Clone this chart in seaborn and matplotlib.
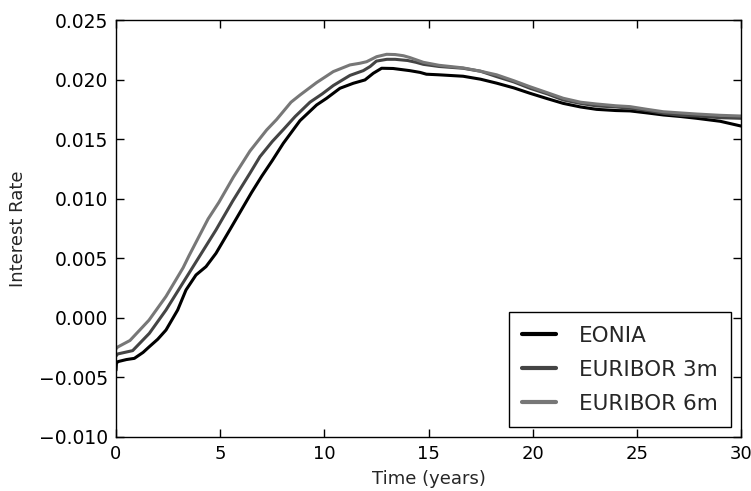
import numpy as np
import pandas as pd
import matplotlib
matplotlib.use("Agg")
import matplotlib.pyplot as plt
import seaborn as sns

series_names = ["EONIA", "EURIBOR 3m", "EURIBOR 6m"]

eonia_t = [0.0, 0.02, 0.1, 0.5, 0.88, 1.3, 1.6, 2.0, 2.4, 2.96, 3.36, 3.84, 4.32, 4.8,
           5.5, 6.0, 6.5, 7.0, 7.5, 8.03, 8.83, 9.63, 10.11, 10.75, 11.39, 11.95,
           12.35, 12.75, 13.3, 14.1, 14.6, 14.9, 15.5, 16.66, 17.5, 18.27, 19.1, 19.87,
           20.7, 21.47, 22.3, 23.07, 24.0, 24.67, 25.5, 26.27, 27.1, 27.87, 29.0, 30.0]
eonia_r = [-0.0044, -0.0038, -0.00367, -0.0035, -0.0034, -0.0029, -0.00242, -0.0018, -0.00102,
           0.00066, 0.00234, 0.0036, 0.0043, 0.00542, 0.0075, 0.0090, 0.0105, 0.0119,
           0.0132, 0.01465, 0.01655, 0.01787, 0.01843, 0.01927, 0.01969, 0.01997, 0.02053,
           0.02095, 0.02093, 0.02075, 0.0206, 0.02045, 0.0204, 0.02028, 0.02003, 0.0197,
           0.0193, 0.01885, 0.0184, 0.018, 0.0177, 0.0175, 0.0174, 0.01737, 0.0172, 0.01703,
           0.0169, 0.01675, 0.0165, 0.0161]

eur3m_t = [0.0, 0.08, 0.8, 1.6, 2.4, 3.2, 4.0, 4.8, 5.07, 5.6, 6.43, 6.91, 7.5, 8.03, 8.6,
           9.31, 9.9, 10.43, 10.9, 11.23, 11.87, 12.2, 12.5, 13.0, 13.4, 14.0, 14.4, 14.75,
           15.5, 16.66, 17.5, 18.27, 19.1, 19.87, 20.7, 21.47, 22.3, 23.07, 24.0, 24.67,
           25.5, 26.27, 27.1, 27.87, 29.0, 30.0]
eur3m_r = [-0.0032, -0.00303, -0.00275, -0.0013, 0.00066, 0.0029, 0.00514, 0.00738, 0.0082,
           0.0098, 0.01214, 0.01353, 0.0148, 0.0158, 0.0169, 0.0181, 0.0188, 0.0195, 0.0200,
           0.02035, 0.02075, 0.0211, 0.02155, 0.0217, 0.0217, 0.0216, 0.02145, 0.02128,
           0.0211, 0.02095, 0.0207, 0.02025, 0.0198, 0.01927, 0.0188, 0.01829, 0.018,
           0.01779, 0.0177, 0.0176, 0.0174, 0.01717, 0.0170, 0.01694, 0.0168, 0.01675]

eur6m_t = [0.0, 0.08, 0.67, 1.58, 2.4, 3.22, 3.5, 4.42, 4.94, 5.63, 6.43, 7.23, 7.71, 8.4,
           8.83, 9.63, 10.11, 10.43, 11.23, 11.71, 12.03, 12.51, 12.99, 13.4, 13.8, 14.1,
           14.75, 15.5, 16.66, 17.5, 18.27, 19.1, 19.87, 20.7, 21.47, 22.3, 23.07, 24.0,
           24.67, 25.5, 26.27, 27.1, 27.87, 29.0, 30.0]
eur6m_r = [-0.0026, -0.00245, -0.0019, -0.0002, 0.0018, 0.0042, 0.0052, 0.0083, 0.0097,
           0.0118, 0.01400, 0.01577, 0.01665, 0.0181, 0.0187, 0.01975, 0.0203, 0.02067,
           0.02123, 0.02137, 0.0215, 0.02192, 0.02212, 0.0221, 0.022, 0.02185, 0.02145,
           0.0212, 0.02098, 0.0207, 0.0204, 0.0199, 0.0194, 0.0189, 0.01843, 0.0181,
           0.01795, 0.0178, 0.01773, 0.0175, 0.0173, 0.0172, 0.01711, 0.017, 0.01694]

x_ticks = [0, 5, 10, 15, 20, 25, 30]
y_ticks = [-0.010, -0.005, 0.000, 0.005, 0.010, 0.015, 0.020, 0.025]
y_tick_labels = ["\u22120.010", "\u22120.005", "0.000", "0.005", "0.010", "0.015", "0.020", "0.025"]

df = pd.concat([
    pd.DataFrame({"t": eonia_t, "r": eonia_r, "series": series_names[0]}),
    pd.DataFrame({"t": eur3m_t, "r": eur3m_r, "series": series_names[1]}),
    pd.DataFrame({"t": eur6m_t, "r": eur6m_r, "series": series_names[2]}),
], ignore_index=True)

sns.set_style("ticks")
plt.rcParams["font.family"] = ["DejaVu Sans"]
plt.rcParams["font.size"] = 13

fig = plt.figure(figsize=(7.51, 4.91), dpi=100)
ax = fig.add_axes([116 / 751, 1 - 437 / 491, (741 - 116) / 751, (437 - 20) / 491])

palette = {"EONIA": "#000000", "EURIBOR 3m": "#444444", "EURIBOR 6m": "#777777"}
sns.lineplot(data=df, x="t", y="r", hue="series", palette=palette, estimator=None,
             sort=True, linewidth=2.2, ax=ax, legend=True)

ax.set_xlim(0, 30)
ax.set_ylim(-0.010, 0.025)
ax.set_xticks(x_ticks)
ax.set_xticklabels([str(v) for v in x_ticks])
ax.set_yticks(y_ticks)
ax.set_yticklabels(y_tick_labels)
ax.set_xlabel("Time (years)", fontsize=13, labelpad=5)
ax.set_ylabel("Interest Rate", fontsize=13, labelpad=8)
for s in ax.spines.values():
    s.set_visible(True)
    s.set_color("black")
    s.set_linewidth(1.0)
ax.tick_params(direction="in", top=True, right=True, length=6, width=1,
               colors="black", pad=6)
ax.tick_params(axis="y", labelsize=13.5)
ax.tick_params(axis="x", labelsize=13)

handles, labels = ax.get_legend_handles_labels()
leg = ax.legend(handles, labels, loc="lower right", fontsize=15.5, frameon=True,
                fancybox=False, edgecolor="black", framealpha=1,
                handlelength=1.6, handletextpad=1.05, labelspacing=0.66,
                borderpad=0.62, borderaxespad=0.45)
leg.get_frame().set_linewidth(1.0)
for h in leg.get_lines():
    h.set_linewidth(3.0)

fig.savefig("out.png", dpi=100)
